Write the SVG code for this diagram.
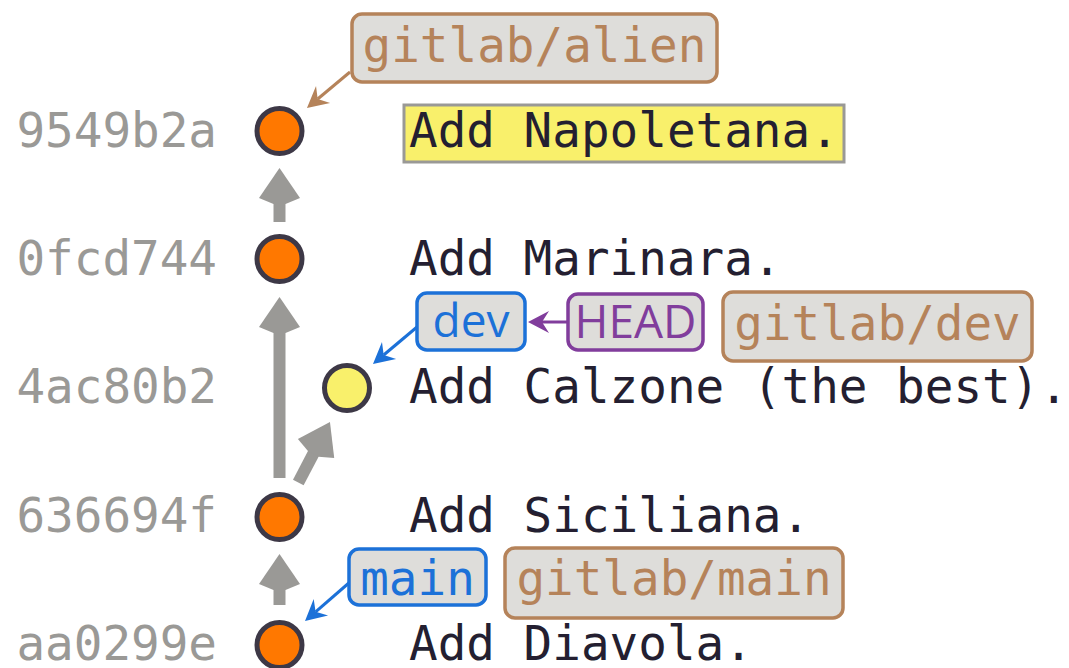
<svg xmlns="http://www.w3.org/2000/svg" width="1069" height="668" viewBox="0 0 1069 668">
<style>
.mono{font-family:"DejaVu Sans Mono","Liberation Mono",monospace;font-size:47.6px}
.sans{font-family:"Open Sans","DejaVu Sans",sans-serif;font-size:46px}
.hash{fill:#9a9996;text-anchor:end}
.msg{fill:#241f31}
.node{fill:#ff7800;stroke:#3d3846;stroke-width:5}
.node.cur{fill:#f9f06b}
.edge{stroke:#9a9996;stroke-width:12;fill:none}
.ref rect{fill:#deddda;stroke-width:3.5}
.ref text{text-anchor:middle}
.remote rect{stroke:#b5835a}
.remote text{fill:#b5835a}
.branch rect{stroke:#1c71d8}
.branch text{fill:#1c71d8}
.head rect{stroke:#813d9c}
.head text{fill:#813d9c}
.rl{stroke-width:3;fill:none}
</style>
<defs>
<marker id="ag" markerUnits="userSpaceOnUse" viewBox="-2 -22 40 44" markerWidth="40" markerHeight="44" refX="2" refY="0" orient="auto" overflow="visible">
<path d="M36,0 L6,-20.5 L0,-6 L0,6 L6,20.5 Z" fill="#9a9996"/>
</marker>
<marker id="ab" markerUnits="userSpaceOnUse" viewBox="-8 -12 24 24" markerWidth="24" markerHeight="24" refX="0" refY="0" orient="auto" overflow="visible">
<path d="M14,0 L-7,-11 L0,0 L-7,11 Z" fill="#b5835a"/>
</marker>
<marker id="al" markerUnits="userSpaceOnUse" viewBox="-8 -12 24 24" markerWidth="24" markerHeight="24" refX="0" refY="0" orient="auto" overflow="visible">
<path d="M14,0 L-7,-11 L0,0 L-7,11 Z" fill="#1c71d8"/>
</marker>
<marker id="ap" markerUnits="userSpaceOnUse" viewBox="-8 -12 24 24" markerWidth="24" markerHeight="24" refX="0" refY="0" orient="auto" overflow="visible">
<path d="M14,0 L-7,-11 L0,0 L-7,11 Z" fill="#813d9c"/>
</marker>
</defs>
<rect x="404" y="105" width="440" height="57" fill="#f9f06b" stroke="#9a9996" stroke-width="3"/>
<g id="connectors">
<line class="edge" x1="279.5" y1="222" x2="279.5" y2="202" marker-end="url(#ag)"/>
<line class="edge" x1="279.5" y1="478" x2="279.5" y2="331" marker-end="url(#ag)"/>
<line class="edge" x1="298.3" y1="482.5" x2="314.2" y2="452.1" marker-end="url(#ag)"/>
<line class="edge" x1="279.5" y1="605" x2="279.5" y2="588" marker-end="url(#ag)"/>
<line class="rl" stroke="#b5835a" x1="350" y1="72" x2="317.7" y2="99" marker-end="url(#ab)"/>
<line class="rl" stroke="#1c71d8" x1="417" y1="327" x2="383.7" y2="355" marker-end="url(#al)"/>
<line class="rl" stroke="#1c71d8" x1="350" y1="582" x2="315.6" y2="611.8" marker-end="url(#al)"/>
<line class="rl" stroke="#813d9c" x1="568" y1="322" x2="542" y2="322" marker-end="url(#ap)"/>
</g>
<g id="c9549b2a">
<text class="mono hash" x="217" y="147">9549b2a</text>
<circle class="node" cx="279.5" cy="131" r="22.5"/>
<text class="mono msg" x="409" y="147">Add Napoletana.</text>
</g>
<g id="c0fcd744">
<text class="mono hash" x="217" y="275">0fcd744</text>
<circle class="node" cx="279.5" cy="259" r="22.5"/>
<text class="mono msg" x="409" y="275">Add Marinara.</text>
</g>
<g id="c4ac80b2">
<text class="mono hash" x="217" y="403">4ac80b2</text>
<circle class="node cur" cx="347" cy="388" r="22.5"/>
<text class="mono msg" x="409" y="403">Add Calzone (the best).</text>
</g>
<g id="c636694f">
<text class="mono hash" x="217" y="532">636694f</text>
<circle class="node" cx="279.5" cy="517" r="22.5"/>
<text class="mono msg" x="409" y="532">Add Siciliana.</text>
</g>
<g id="caa0299e">
<text class="mono hash" x="217" y="660">aa0299e</text>
<circle class="node" cx="279.5" cy="645" r="22.5"/>
<text class="mono msg" x="409" y="660">Add Diavola.</text>
</g>
<g id="ref-gitlab-alien" class="ref remote">
<rect x="352" y="14" width="365" height="68" rx="10"/>
<text class="mono" x="534.5" y="62">gitlab/alien</text>
</g>
<g id="ref-dev" class="ref branch">
<rect x="417" y="293" width="108" height="57" rx="10"/>
<text class="sans" x="471" y="337">dev</text>
</g>
<g id="ref-head" class="ref head">
<rect x="568" y="294" width="135" height="56" rx="10"/>
<text class="sans" x="635.5" y="338">HEAD</text>
</g>
<g id="ref-gitlab-dev" class="ref remote">
<rect x="723" y="292" width="309" height="69" rx="10"/>
<text class="mono" x="877.5" y="340">gitlab/dev</text>
</g>
<g id="ref-main" class="ref branch">
<rect x="349" y="549" width="137" height="56" rx="10"/>
<text class="mono" x="417.5" y="595">main</text>
</g>
<g id="ref-gitlab-main" class="ref remote">
<rect x="505" y="548" width="338" height="70" rx="10"/>
<text class="mono" x="674" y="595">gitlab/main</text>
</g>
</svg>
